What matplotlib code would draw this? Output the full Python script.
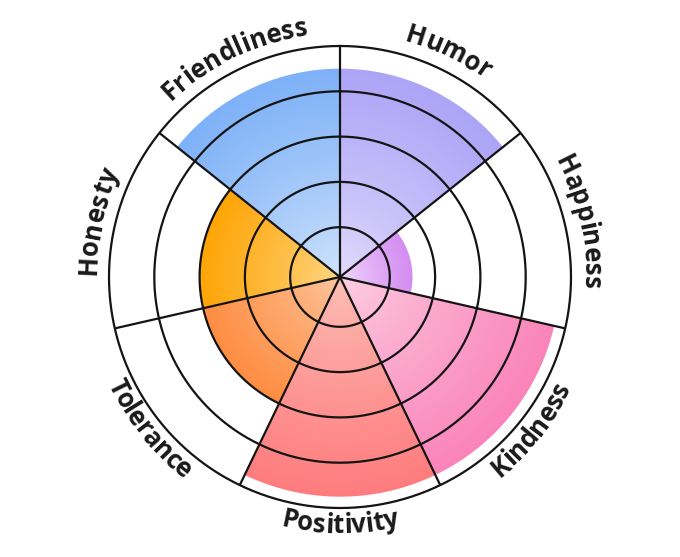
import numpy as np
import matplotlib
matplotlib.use('Agg')
import matplotlib.pyplot as plt
from matplotlib.colors import to_rgb
from matplotlib.font_manager import FontProperties

# ---------------- data ----------------
labels = ['Humor', 'Happiness', 'Kindness', 'Positivity', 'Tolerance', 'Honesty', 'Friendliness']
values = [90, 30, 95, 95, 60, 60, 90]
inner_colors = ['#e4ddfd', '#f3dcfd', '#fdd2e4', '#fcc2b8', '#fdc8a2', '#fed98a', '#d4e6fd']
outer_colors = ['#aca4f6', '#d48cf1', '#fa84ba', '#ff7c7e', '#ff8d42', '#ffa506', '#7eb1f7']
grid_levels = [20, 40, 60, 80, 100]
rmin, rmax = -2, 100

# ---------------- layout ----------------
W, H = 680, 557
cx, cy, R = 340, 277, 231
line_col = '#141414'

fig = plt.figure(figsize=(W / 100, H / 100), dpi=100)
bg = fig.add_axes([0, 0, 1, 1])
bg.set_xlim(0, W)
bg.set_ylim(H, 0)
bg.axis('off')

ax = fig.add_axes([(cx - R) / W, (H - cy - R) / H, 2 * R / W, 2 * R / H], projection='polar')
ax.set_theta_zero_location('N')
ax.set_theta_direction(-1)
ax.set_ylim(rmin, rmax)
ax.patch.set_alpha(0)
ax.grid(False)
ax.set_xticks([])
ax.set_yticks([])
ax.spines['polar'].set_visible(False)

n = len(labels)
width = 2 * np.pi / n
theta = np.arange(n) * width + width / 2
vals = np.array(values, dtype=float)
# invisible bars (the sector shapes); the gradient is painted below from the same scale
bars = ax.bar(theta, vals - rmin, width=width, bottom=rmin,
              facecolor='none', edgecolor='none')

# ---------------- gradient fills ----------------
fig.canvas.draw()
x0, x1 = cx - R - 2, cx + R + 2
y0, y1 = cy - R - 2, cy + R + 2
xs = np.arange(x0, x1) + 0.5
ys = np.arange(y0, y1) + 0.5
X, Y = np.meshgrid(xs, ys)
disp = np.column_stack([X.ravel(), (H - Y).ravel()])
tr = ax.transData.inverted().transform(disp)
TH = np.mod(tr[:, 0], 2 * np.pi).reshape(X.shape)
RR = tr[:, 1].reshape(X.shape)
px_per_unit = R / (rmax - rmin)
rgba = np.ones(X.shape + (4,))
rgba[..., 3] = 0
for i in range(n):
    lo = theta[i] - width / 2
    hi = theta[i] + width / 2
    inside = (TH >= lo) & (TH < hi)
    t = np.clip((RR - rmin) / (vals[i] - rmin), 0, 1) ** 0.8
    t = t[..., None]
    c0 = np.array(to_rgb(inner_colors[i]))
    c1 = np.array(to_rgb(outer_colors[i]))
    col = c0 + (c1 - c0) * t
    a = np.clip((vals[i] - RR) * px_per_unit + 0.5, 0, 1)
    rgba[inside, :3] = col[inside]
    rgba[inside, 3] = a[inside]
bg.imshow(rgba, extent=(x0, x1, y1, y0), interpolation='nearest', zorder=1)
bg.set_xlim(0, W)
bg.set_ylim(H, 0)

# ---------------- grid ----------------
tt = np.linspace(0, 2 * np.pi, 721)
for lvl in grid_levels:
    ax.plot(tt, np.full_like(tt, lvl), color=line_col, lw=1.6, clip_on=False, zorder=5)
for b in np.arange(n) * width:
    ax.plot([b, b], [rmin, rmax], color=line_col, lw=1.6, clip_on=False, zorder=5,
            solid_capstyle='butt')

# ---------------- curved labels ----------------
fp = FontProperties(family=['Open Sans', 'DejaVu Sans'], weight='bold', size=18.5)
renderer = fig.canvas.get_renderer()


def tw(s):
    if not s:
        return 0.0
    w, h, d = renderer.get_text_width_height_descent(s, fp, ismath=False)
    return w


for i, lab in enumerate(labels):
    tc = theta[i]
    outward = np.cos(tc) > 0
    rb = 244 if outward else 256
    total = tw(lab)
    for j, ch in enumerate(lab):
        mid = (tw(lab[:j]) + tw(lab[:j + 1])) / 2
        phi = (mid - total / 2) / rb
        th = tc + phi if outward else tc - phi
        x = cx + rb * np.sin(th)
        y = cy - rb * np.cos(th)
        rot = -np.degrees(th) if outward else 180 - np.degrees(th)
        bg.text(x, y, ch, fontproperties=fp, color='#1a1a1a', ha='center', va='baseline',
                rotation=rot, rotation_mode='anchor', zorder=6)

fig.savefig('out.png', dpi=100, facecolor='white')
